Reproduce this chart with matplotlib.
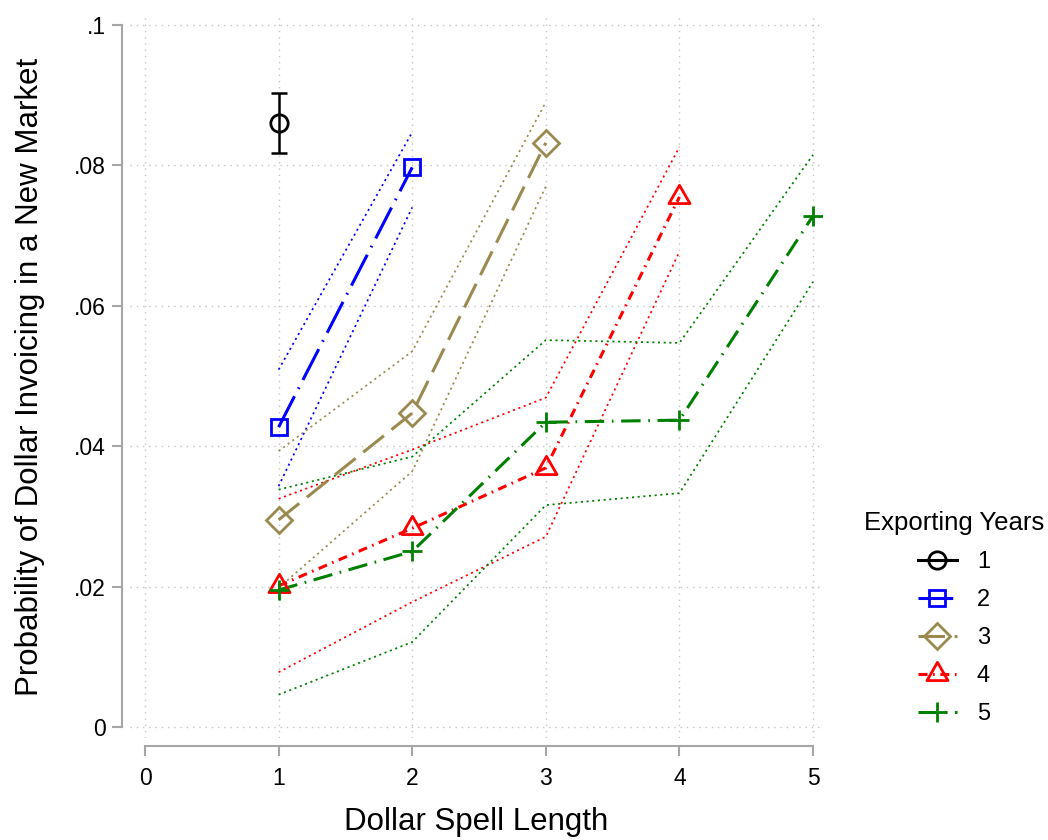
import matplotlib
matplotlib.use("Agg")
import matplotlib.pyplot as plt
from matplotlib.path import Path
from matplotlib.lines import Line2D

plt.rcParams['font.family'] = ['Liberation Sans', 'DejaVu Sans']
plt.rcParams['lines.scale_dashes'] = False

# ---------------- data ----------------
x_ticks = [0, 1, 2, 3, 4, 5]
x_tick_labels = ["0", "1", "2", "3", "4", "5"]
y_ticks = [0, 0.02, 0.04, 0.06, 0.08, 0.1]
y_tick_labels = ["0", ".02", ".04", ".06", ".08", ".1"]

series_names = ["1", "2", "3", "4", "5"]

x1 = [1]
y1 = [0.0860]
lo1 = [0.0818]
hi1 = [0.0903]

x2 = [1, 2]
y2 = [0.0427, 0.0797]
lo2 = [0.0343, 0.0740]
hi2 = [0.0509, 0.0847]

x3 = [1, 2, 3]
y3 = [0.0295, 0.0447, 0.0832]
lo3 = [0.0198, 0.0364, 0.0770]
hi3 = [0.0393, 0.0535, 0.0890]

x4 = [1, 2, 3, 4]
y4 = [0.0201, 0.0283, 0.0369, 0.0755]
lo4 = [0.0078, 0.0178, 0.0271, 0.0677]
hi4 = [0.0325, 0.0395, 0.0469, 0.0826]

x5 = [1, 2, 3, 4, 5]
y5 = [0.0195, 0.0250, 0.0434, 0.0437, 0.0728]
lo5 = [0.0046, 0.0121, 0.0316, 0.0333, 0.0634]
hi5 = [0.0338, 0.0385, 0.0551, 0.0547, 0.0815]

# ---------------- styles ----------------
tri = Path([(0, 1), (-0.866, -0.5), (0.866, -0.5), (0, 1)], closed=True)
colors = ["#000000", "#0000FF", "#9B8A4F", "#FF0000", "#008000"]
markers = ["o", "s", "D", tri, "+"]
msizes = [12.5, 11.8, 12.8, 17.5, 14.5]
dashes = [None, (0, (25, 6, 1.2, 6)), (0, (19, 7)),
          (0, (6.5, 4, 1.2, 4)), (0, (14, 5.5, 1.2, 5.5))]

fig = plt.figure(figsize=(10.48, 8.4), dpi=100)
W, H = 1048, 840
ax = fig.add_axes([130 / W, 1 - 738 / H, (822 - 130) / W, (738 - 15) / H])
ax.set_xlim(-0.1123, 5.067)
ax.set_ylim(-0.00157, 0.1014)

grey = "#A6A6A6"
for s in ["top", "right"]:
    ax.spines[s].set_visible(False)
for s in ["left", "bottom"]:
    ax.spines[s].set_position(("outward", 5.8))
    ax.spines[s].set_color(grey)
    ax.spines[s].set_linewidth(1.5)
ax.spines["left"].set_bounds(0, 0.1)
ax.spines["bottom"].set_bounds(0, 5)

ax.set_xticks(x_ticks)
ax.set_xticklabels(x_tick_labels)
ax.set_yticks(y_ticks)
ax.set_yticklabels(y_tick_labels)
ax.tick_params(axis="both", length=7.2, width=1.5, color=grey,
               labelcolor="black", labelsize=16.5)
ax.tick_params(axis="x", pad=8)
ax.tick_params(axis="y", pad=4.5)

ax.grid(True, color="#C4C4C4", linestyle=(0, (1, 3.5)), linewidth=1.0)
ax.set_axisbelow(True)

ax.set_xlabel("Dollar Spell Length", fontsize=22.5, labelpad=12)
ax.set_ylabel("Probability of Dollar Invoicing in a New Market",
              fontsize=22.5, labelpad=21)

xs = [x1, x2, x3, x4, x5]
ys = [y1, y2, y3, y4, y5]
los = [lo1, lo2, lo3, lo4, lo5]
his = [hi1, hi2, hi3, hi4, hi5]

ci_style = dict(linestyle=(0, (1.5, 2.6)), linewidth=1.25)

# series 1: point with error bar
ax.errorbar(x1, y1, yerr=[[y1[0] - lo1[0]], [hi1[0] - y1[0]]],
            fmt="none", ecolor=colors[0], elinewidth=1.8, capsize=6,
            capthick=1.8, zorder=3)

# CI lines for series 2-5
for i in range(1, 5):
    ax.plot(xs[i], los[i], color=colors[i], zorder=2, **ci_style)
    ax.plot(xs[i], his[i], color=colors[i], zorder=2, **ci_style)

handles = []
for i in range(5):
    ls = "-" if dashes[i] is None else dashes[i]
    ax.plot(xs[i], ys[i], color=colors[i], linestyle=ls, linewidth=2.2,
            zorder=4)
    ax.plot(xs[i], ys[i], linestyle="none", marker=markers[i],
            markersize=msizes[i], markerfacecolor="none",
            markeredgecolor=colors[i], markeredgewidth=2.0, zorder=5)
    h = Line2D([], [], color=colors[i], linestyle=ls, linewidth=2.2,
               marker=markers[i], markersize=msizes[i],
               markerfacecolor="none", markeredgecolor=colors[i],
               markeredgewidth=2.0)
    handles.append(h)

leg = fig.legend(handles, series_names, title="Exporting Years",
                 loc="upper center", bbox_to_anchor=(954 / W, 1 - 511 / H),
                 frameon=False, fontsize=17, title_fontsize=18.5,
                 handlelength=1.65, handletextpad=0.85, labelspacing=0.68,
                 borderpad=0, borderaxespad=0)

fig.savefig("out.png", dpi=100)
